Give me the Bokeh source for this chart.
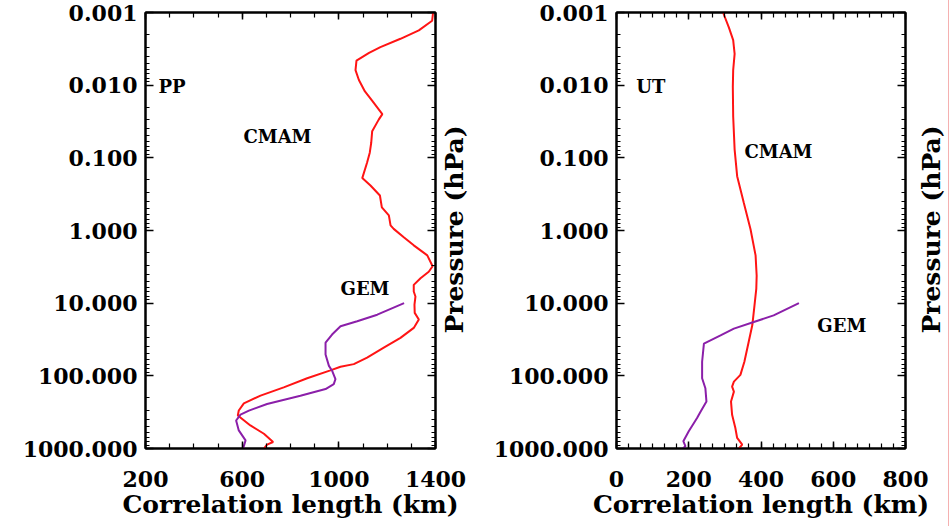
import math

from bokeh.core.properties import value
from bokeh.embed import file_html
from bokeh.layouts import row
from bokeh.models import FixedTicker, Label, LinearAxis, LogAxis, Range1d, Spacer
from bokeh.plotting import figure
from bokeh.resources import INLINE

# ---- PP panel: correlation length (km) against pressure (hPa) ----
pp_cmam_km = [1390, 1386, 1331, 1255, 1172, 1125, 1073, 1069, 1083, 1108, 1140, 1180,
              1165, 1138, 1134, 1128, 1117, 1097, 1131, 1170, 1178, 1207, 1214, 1227,
              1270, 1310, 1366, 1388, 1372, 1338, 1310, 1310, 1317, 1313, 1314, 1331,
              1310, 1255, 1186, 1117, 1062, 1007, 965, 869, 772, 676, 607, 586,
              582, 634, 690, 728, 703, 690]
pp_cmam_hpa = [0.001, 0.0013, 0.00176, 0.0023, 0.003, 0.0036, 0.0046, 0.0062, 0.0085, 0.0122, 0.0167, 0.0250,
               0.0298, 0.043, 0.062, 0.085, 0.116, 0.19, 0.24, 0.33, 0.48, 0.62, 0.85, 0.95,
               1.25, 1.6, 2.2, 3.1, 3.7, 4.55, 5.6, 6.9, 8.1, 10.5, 13.6, 16.8,
               21.9, 30, 41, 56, 69, 75, 84, 108, 144, 187, 239, 300,
               352, 482, 627, 815, 883, 1000]

pp_gem_km = [1270, 1159, 1076, 1007, 972, 945, 945, 959, 972, 986, 979, 945,
             841, 703, 628, 593, 575, 586, 614, 604]
pp_gem_hpa = [10, 14.4, 17.7, 20.8, 27, 35, 51, 73, 85, 111, 130, 152,
              188, 244, 301, 341, 412, 564, 773, 1000]

# ---- UT panel ----
ut_cmam_km = [295, 311, 323, 327, 323, 322, 323, 327, 334, 352, 371, 385,
              388, 387, 382, 376, 366, 354, 343, 325, 320, 325, 317, 320,
              329, 334, 348, 339]
ut_cmam_hpa = [0.001, 0.0016, 0.0024, 0.0037, 0.0062, 0.0105, 0.027, 0.077, 0.179, 0.41, 0.96, 2.2,
               4.2, 6.3, 10.7, 20, 34, 64, 97, 120, 141, 165, 226, 344,
               523, 716, 884, 1000]

ut_gem_km = [505, 435, 380, 325, 288, 242, 237, 237, 246, 249, 233, 223,
             200, 185, 191, 183]
ut_gem_hpa = [10, 14.7, 18.2, 22.4, 27.7, 36, 64, 108, 148, 226, 309, 381,
              580, 794, 933, 1000]

# ---- axes ----
pressure_ticks = [0.001, 0.01, 0.1, 1, 10, 100, 1000]
pressure_labels = ["0.001", "0.010", "0.100", "1.000", "10.000", "100.000", "1000.000"]
pressure_minor = [m * 10.0 ** k for k in range(-3, 3) for m in range(2, 10)]

pp_x_ticks = [200, 600, 1000, 1400]
pp_x_minor = list(range(200, 1401, 100))
ut_x_ticks = [0, 200, 400, 600, 800]
ut_x_minor = [i * 800 / 24 for i in range(25)]

# ---- panel labels (text, km, hPa) ----
pp_notes = (["PP", "CMAM", "GEM"], [254, 605, 1007], [0.0103, 0.0513, 6.23])
ut_notes = (["UT", "CMAM", "GEM"], [55, 354, 556], [0.01055, 0.0818, 20.2])

RED = "#ff1414"
PURPLE = "#8b1fa9"
FONT = "DejaVu Serif"
H = 526


def style_axis(ax, ticks, tick_in, minor_in, show_labels):
    ax.axis_line_color = "black"
    ax.axis_line_width = 2
    ax.major_tick_line_color = "black"
    ax.major_tick_line_width = 1.5
    ax.minor_tick_line_color = "black"
    ax.minor_tick_line_width = 1.2
    ax.major_tick_in = tick_in
    ax.major_tick_out = 0
    ax.minor_tick_in = minor_in
    ax.minor_tick_out = 0
    ax.major_label_text_font = FONT
    ax.major_label_text_font_style = "bold"
    ax.major_label_text_font_size = "22px"
    ax.major_label_text_color = "black"
    if not show_labels:
        # frame-side axes carry ticks only
        ax.major_label_overrides = {t: "" for t in ticks}
        ax.major_label_standoff = 0


def make_panel(width, f_left, f_right, f_top, f_bottom, x_lo, x_hi, x_major, x_minor,
               series, notes, title_x, title_y):
    p = figure(width=width, height=H,
               x_range=Range1d(x_lo, x_hi), y_range=Range1d(1000, 0.001),
               y_axis_type="log", output_backend="svg", toolbar_location=None,
               min_border_left=f_left, min_border_right=width - f_right,
               min_border_top=f_top, min_border_bottom=H - f_bottom)
    p.grid.visible = False
    p.outline_line_color = "black"
    p.outline_line_width = 2
    p.background_fill_color = "white"
    p.border_fill_color = "white"

    x_ticker = FixedTicker(ticks=x_major, minor_ticks=x_minor)
    y_ticker = FixedTicker(ticks=pressure_ticks, minor_ticks=pressure_minor)

    xa = p.xaxis[0]
    xa.ticker = x_ticker
    style_axis(xa, x_major, 7, 5, True)
    xa.major_label_standoff = 22
    xa.axis_label = "Correlation length (km)"
    xa.axis_label_standoff = 0
    xa.axis_label_text_font = FONT
    xa.axis_label_text_font_style = "bold"
    xa.axis_label_text_font_size = "25px"
    xa.axis_label_text_color = "black"

    ya = p.yaxis[0]
    ya.ticker = y_ticker
    style_axis(ya, pressure_ticks, 8, 4, True)
    ya.major_label_standoff = 8
    ya.major_label_overrides = dict(zip(pressure_ticks, pressure_labels))

    top = LinearAxis(ticker=x_ticker)
    style_axis(top, x_major, 7, 5, False)
    p.add_layout(top, "above")

    right = LogAxis(ticker=y_ticker)
    style_axis(right, pressure_ticks, 8, 4, False)
    p.add_layout(right, "right")

    # pressure title in the right-hand margin, reading upwards
    p.add_layout(Label(x=title_x, y=title_y, x_units="screen", y_units="screen",
                       text="Pressure (hPa)", angle=math.pi / 2,
                       text_align="center", text_baseline="middle",
                       text_font=FONT, text_font_style="bold", text_font_size="25px",
                       text_color="black"), "right")

    for km, hpa, color in series:
        p.line(km, hpa, line_color=color, line_width=2)

    txt, nx, ny = notes
    p.text(x=nx, y=ny, text=txt, text_font=value(FONT), text_font_style="bold",
           text_font_size="18px", text_color="black",
           text_align="left", text_baseline="alphabetic")
    return p


left = make_panel(476, 145, 435, 9, 448, 200, 1400, pp_x_ticks, pp_x_minor,
                  [(pp_cmam_km, pp_cmam_hpa, RED), (pp_gem_km, pp_gem_hpa, PURPLE)],
                  pp_notes, 19, 219)
right = make_panel(472, 140, 429, 12, 450, 0, 800, ut_x_ticks, ut_x_minor,
                   [(ut_cmam_km, ut_cmam_hpa, RED), (ut_gem_km, ut_gem_hpa, PURPLE)],
                   ut_notes, 26, 219)

# thin rule at the right edge of the page
edge = Spacer(width=1, height=H, styles={"background-color": "#f5b0b0"})
pad = Spacer(width=3, height=H)

layout = row(left, right, edge, pad)
open("out.html", "w").write(file_html(layout, INLINE))
